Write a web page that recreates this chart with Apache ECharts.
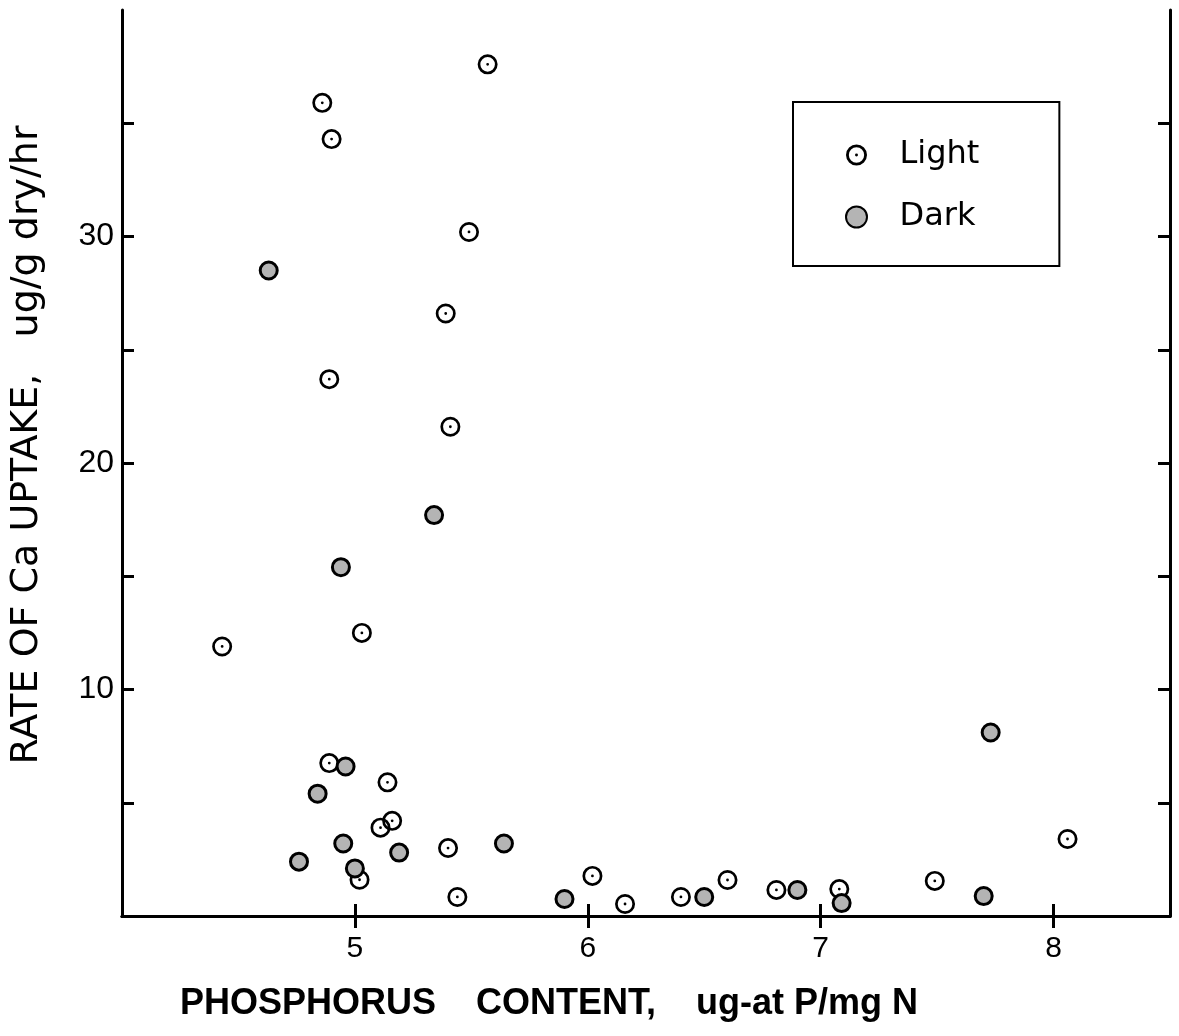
<!DOCTYPE html>
<html>
<head>
<meta charset="utf-8">
<script src="https://cdn.jsdelivr.net/npm/echarts@6/dist/echarts.min.js"></script>
<style>
  html, body { margin: 0; padding: 0; background: #fff; }
  #chart { width: 1179px; height: 1036px; }
</style>
</head>
<body>
<div id="chart"></div>
<script>
// phosphorus content (x) and rate of Ca uptake (y)
var lightX = [5.57, 4.86, 4.90, 5.49, 5.39, 4.89, 5.41, 5.03, 4.43, 4.89, 5.14, 5.40,
	6.02, 6.16, 6.60, 6.81, 7.08, 7.49, 8.06, 5.44, 6.40, 5.11, 5.16, 5.02];
var lightY = [37.6, 35.9, 34.3, 30.2, 26.6, 23.7, 21.6, 12.5, 11.9, 6.75, 5.9, 3.0,
	1.77, 0.53, 1.59, 1.15, 1.19, 1.55, 3.4, 0.84, 0.84, 3.9, 4.2, 1.6];

var darkX = [4.63, 5.34, 4.94, 4.96, 4.84, 4.76, 4.95, 5.19, 5.64, 5.90, 6.90, 7.09,
	7.70, 7.73, 6.50, 5.00];
var darkY = [28.5, 17.7, 15.4, 6.6, 5.4, 2.4, 3.2, 2.8, 3.2, 0.75, 1.15, 0.57,
	0.88, 8.1, 0.84, 2.1];

var xTicks = [5, 6, 7, 8];
var yTicks = [5, 10, 15, 20, 25, 30, 35];
var yLabels = [10, 20, 30];

function pairs(xs, ys) {
	var out = [];
	for (var i = 0; i < xs.length; i++) {
		out.push([xs[i], ys[i]]);
	}
	return out;
}

// ring with a dot in the middle
var dotRing = 'path://M0,-10A10,10 0 1,1 0,10A10,10 0 1,1 0,-10Z' +
	'M0,-7.3A7.3,7.3 0 1,0 0,7.3A7.3,7.3 0 1,0 0,-7.3Z' +
	'M0,-1.4A1.4,1.4 0 1,1 0,1.4A1.4,1.4 0 1,1 0,-1.4Z';

var axisLine = { show: true, lineStyle: { color: '#000', width: 3 } };
var xTick = { show: true, inside: true, length: 12, customValues: xTicks, lineStyle: { color: '#000', width: 3 } };
var yTick = { show: true, inside: true, length: 12, customValues: yTicks, lineStyle: { color: '#000', width: 3 } };

var myChart = echarts.init(document.getElementById('chart'));

myChart.setOption({
	backgroundColor: '#fff',
	animation: false,
	grid: { left: 122, right: 9, top: 10, bottom: 120 },
	legend: {
		data: ['Light', 'Dark'],
		orient: 'vertical',
		left: 793,
		top: 102,
		padding: [37, 80, 33, 52],
		itemGap: 30,
		itemWidth: 76,
		itemHeight: 21,
		borderColor: '#000',
		borderWidth: 2,
		textStyle: { fontFamily: 'DejaVu Sans', fontSize: 32, color: '#000' }
	},
	xAxis: [{
		type: 'value',
		position: 'bottom',
		min: 4,
		max: 8.5,
		interval: 1,
		name: 'PHOSPHORUS    CONTENT,    ug-at P/mg N',
		nameLocation: 'middle',
		nameGap: 70,
		nameTextStyle: {
			fontFamily: 'Liberation Sans',
			fontWeight: 'bold',
			fontSize: 36,
			color: '#000',
			padding: [0, 194, 0, 0]
		},
		axisLine: axisLine,
		axisTick: xTick,
		splitLine: { show: false },
		axisLabel: {
			margin: 18,
			fontFamily: 'Liberation Sans',
			fontSize: 30,
			color: '#000',
			customValues: xTicks
		}
	}, {
		type: 'value',
		position: 'top',
		min: 4,
		max: 8.5,
		interval: 1,
		axisLine: axisLine,
		axisTick: xTick,
		splitLine: { show: false },
		axisLabel: { show: false }
	}],
	yAxis: [{
		type: 'value',
		position: 'left',
		min: 0,
		max: 40,
		interval: 5,
		name: 'RATE OF Ca UPTAKE,   ug/g dry/hr',
		nameLocation: 'middle',
		nameGap: 76,
		nameTextStyle: {
			fontFamily: 'DejaVu Sans',
			fontSize: 38,
			color: '#000',
			padding: [0, 0, 0, 36]
		},
		axisLine: axisLine,
		axisTick: yTick,
		splitLine: { show: false },
		axisLabel: {
			margin: 8,
			fontFamily: 'Liberation Sans',
			fontSize: 32,
			color: '#000',
			customValues: yLabels
		}
	}, {
		type: 'value',
		position: 'right',
		min: 0,
		max: 40,
		interval: 5,
		axisLine: axisLine,
		axisTick: yTick,
		splitLine: { show: false },
		axisLabel: { show: false }
	}],
	series: [{
		name: 'Light',
		type: 'scatter',
		symbol: dotRing,
		symbolSize: 20,
		itemStyle: { color: '#000', opacity: 1 },
		data: pairs(lightX, lightY)
	}, {
		name: 'Dark',
		type: 'scatter',
		symbol: 'circle',
		symbolSize: 17,
		itemStyle: { color: '#b4b4b4', borderColor: '#000', borderWidth: 3, opacity: 1 },
		data: pairs(darkX, darkY)
	}]
});
</script>
</body>
</html>
